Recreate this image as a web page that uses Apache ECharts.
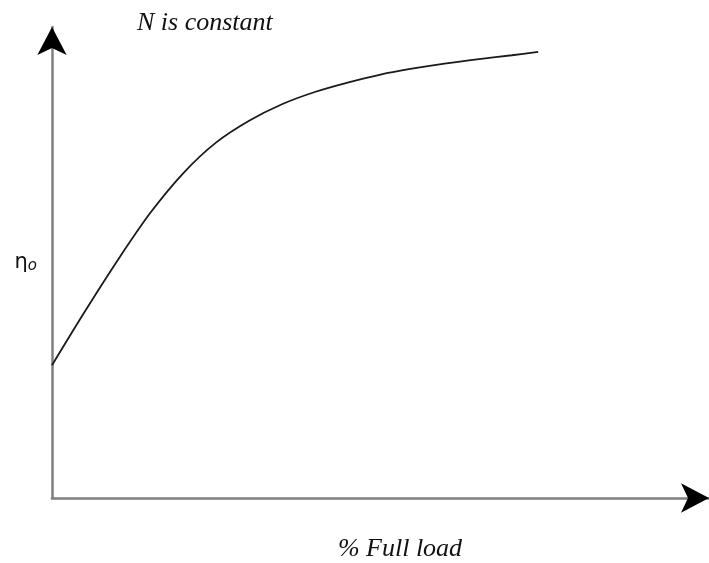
<!DOCTYPE html>
<html>
<head>
<meta charset="utf-8">
<script src="https://cdn.jsdelivr.net/npm/echarts@6/dist/echarts.min.js"></script>
<style>html,body{margin:0;padding:0;background:#fff}#c{width:709px;height:563px}</style>
</head>
<body>
<div id="c"></div>
<script>
// % full load (axis 0..100) vs overall efficiency (axis 0..100)
const loadPct = [0, 5, 10, 15, 20, 25, 30, 35, 40, 45, 50, 55, 60, 65, 70, 74];
const efficiency = [28.2, 39.6, 50.5, 60.6, 69.0, 75.5, 80.1, 83.6, 86.2, 88.2, 89.9, 91.2, 92.3, 93.2, 94.0, 94.7];
const titleText = 'N is constant';
const xName = '% Full load';
const yName = 'η';
const ySub = 'o';

const chart = echarts.init(document.getElementById('c'));
const hidden = { axisTick: { show: false }, axisLabel: { show: false }, splitLine: { show: false } };
const serif = { fontFamily: 'Liberation Serif', fontStyle: 'italic', fontWeight: 'normal', fontSize: 26, color: '#111' };
chart.setOption({
  animation: false,
  backgroundColor: '#fff',
  title: {
    text: titleText,
    left: 132, top: 5,
    textStyle: serif
  },
  grid: { left: 52, right: 0, top: 27, bottom: 65, outerBoundsMode: 'none', containLabel: false },
  xAxis: [{
    type: 'value', min: 0, max: 100, position: 'bottom',
    axisLine: { show: true, lineStyle: { color: '#7f7f7f', width: 2.5 } },
    ...hidden,
    name: xName, nameLocation: 'middle', nameGap: 38,
    nameTextStyle: Object.assign({}, serif, { padding: [0, 0, 0, 39] })
  }, {
    type: 'value', min: 0, max: 100, position: 'bottom', offset: 0,
    axisLine: { show: true, symbol: ['none', 'arrow'], symbolSize: [22, 28], lineStyle: { color: '#000', width: 0 } },
    ...hidden
  }],
  yAxis: [{
    type: 'value', min: 0, max: 100, position: 'left',
    axisLine: { show: true, lineStyle: { color: '#7f7f7f', width: 2.5 } },
    ...hidden,
    name: '{a|' + yName + '}{b|' + ySub + '}', nameLocation: 'middle', nameRotate: 0, nameGap: 15,
    nameTextStyle: {
      align: 'right',
      rich: {
        a: { fontFamily: 'DejaVu Sans', fontSize: 21, color: '#111' },
        b: { fontFamily: 'DejaVu Sans', fontStyle: 'italic', fontSize: 15, color: '#111', padding: [8, 0, 0, 0] }
      }
    }
  }, {
    type: 'value', min: 0, max: 100, position: 'left', offset: 0,
    axisLine: { show: true, symbol: ['none', 'arrow'], symbolSize: [22, 28], lineStyle: { color: '#000', width: 0 } },
    ...hidden
  }],
  series: [{
    type: 'line',
    data: loadPct.map((x, i) => [x, efficiency[i]]),
    smooth: 0.3,
    showSymbol: false,
    lineStyle: { color: '#1a1a1a', width: 1.8 }
  }]
});
</script>
</body>
</html>
